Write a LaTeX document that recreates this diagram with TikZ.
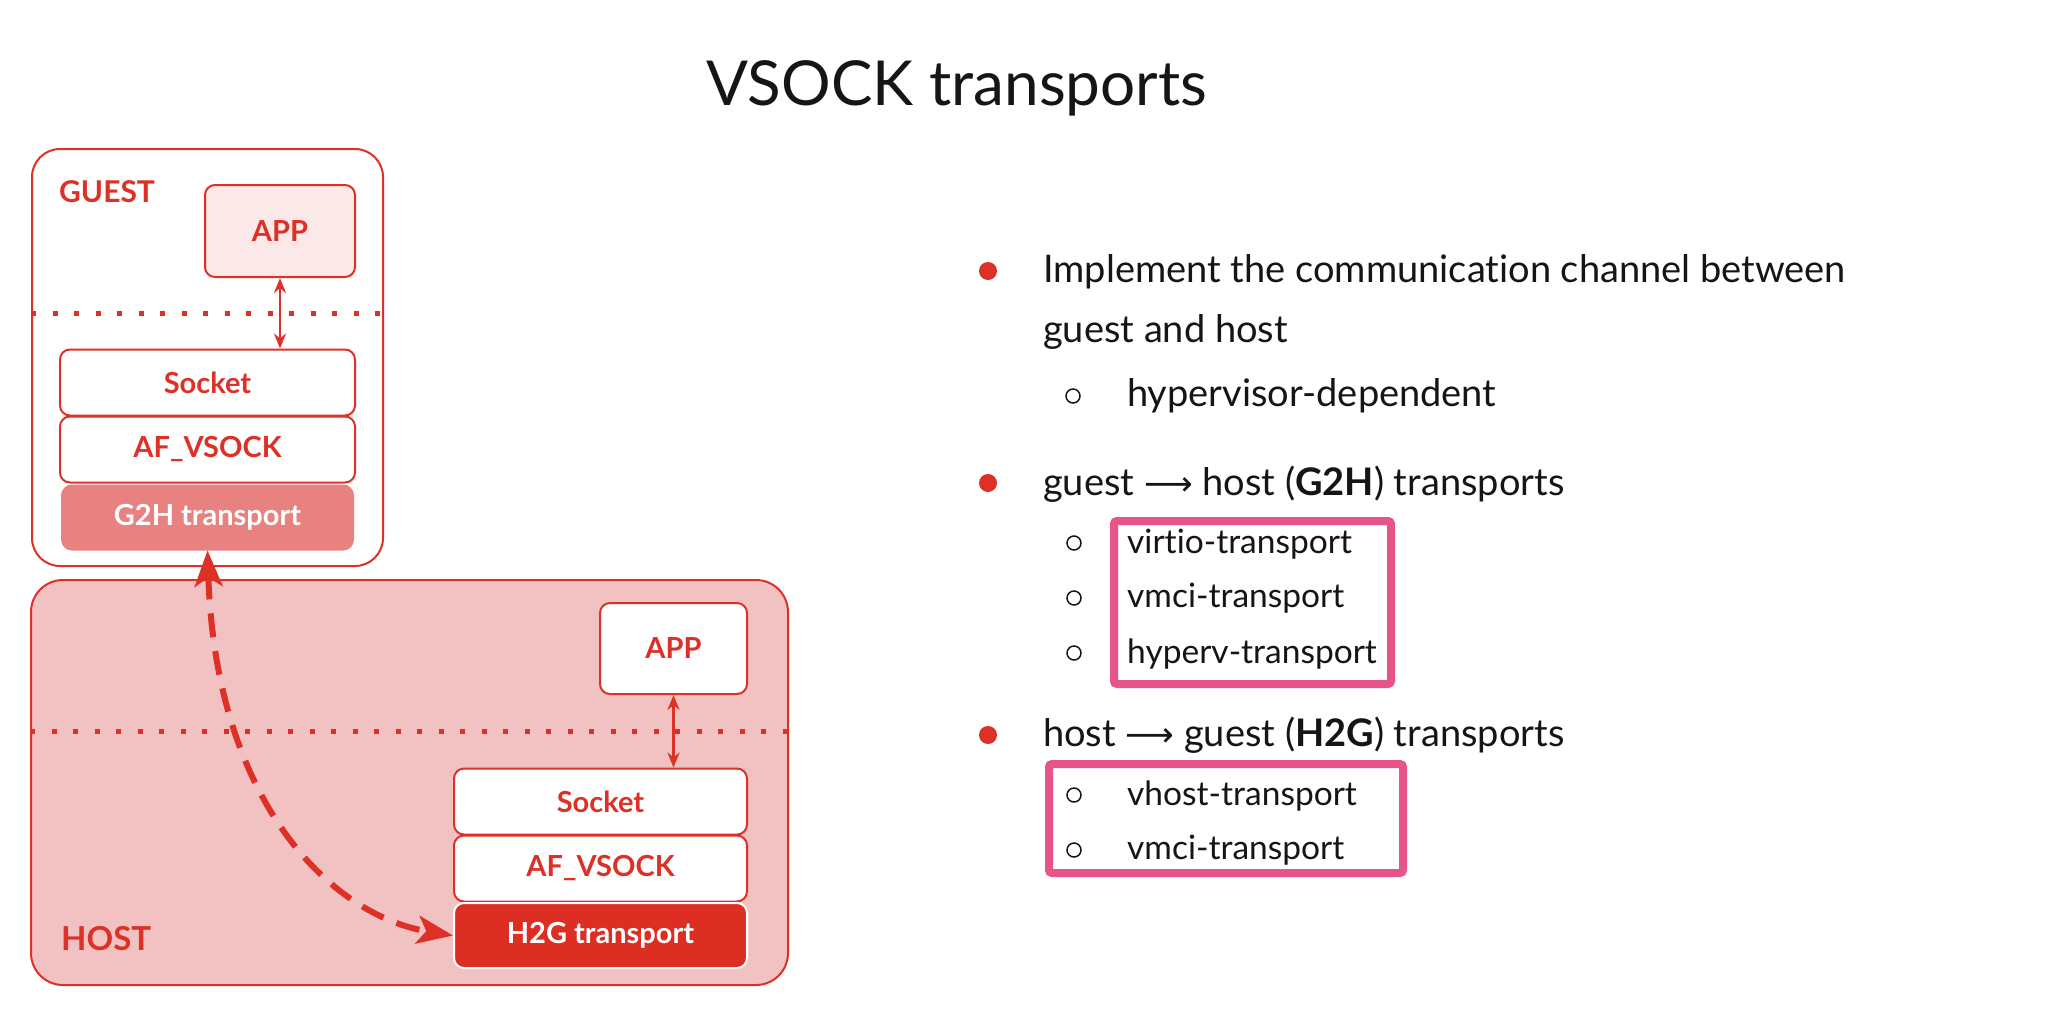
\documentclass[tikz,border=0pt]{standalone}
\usepackage{fontspec}
\setmainfont{Lato}[Ligatures=NoCommon]
\newfontfamily\arrowfont{DejaVu Sans}
\usetikzlibrary{arrows.meta}

\definecolor{rhred}{RGB}{221,49,39}
\definecolor{apppink}{RGB}{251,232,232}
\definecolor{g2hfill}{RGB}{232,130,128}
\definecolor{hostfill}{RGB}{242,194,194}
\definecolor{h2gfill}{RGB}{220,46,34}
\definecolor{listpink}{RGB}{230,84,138}
\definecolor{ink}{RGB}{21,21,21}

\tikzset{
  zone/.style={draw=rhred, line width=2pt, rounded corners=28pt},
  layer/.style={draw=rhred, line width=2pt, rounded corners=10pt, fill=white,
    text=rhred, inner sep=0pt, font=\fontsize{29}{33}\selectfont\bfseries},
  translayer/.style={layer, text=white},
  zonelabel/.style={anchor=base west, inner sep=0pt, text=rhred},
  splitline/.style={draw=rhred, line width=5pt, dash pattern=on 5pt off 16.5pt},
  stackarrow/.style={draw=rhred, line width=2.5pt,
    {Stealth[length=15pt,width=12pt]}-{Stealth[length=15pt,width=12pt]}},
  crossarrow/.style={draw=rhred, line width=6pt, dash pattern=on 24pt off 14pt,
    {Stealth[length=36pt,width=28pt,inset=9pt]}-{Stealth[length=36pt,width=28pt,inset=9pt]}},
  bodytext/.style={anchor=base west, inner sep=0pt, text=ink,
    font=\fontsize{38}{42}\selectfont},
  subtext/.style={anchor=base west, inner sep=0pt, text=ink,
    font=\fontsize{33.5}{37}\selectfont},
  reddot/.style={fill=rhred},
  hollowdot/.style={draw=ink, line width=1.5pt},
  listbox/.style={draw=listpink, line width=8pt, rounded corners=3pt, inner sep=0pt}
}

\begin{document}
\begin{tikzpicture}[x=1pt,y=-1pt]
\useasboundingbox[fill=white] (0,0) rectangle (2048,1018);

% title
\node[anchor=base, inner sep=0pt, text=ink, font=\fontsize{62}{70}\selectfont]
  (title) at (957,105) {VSOCK transports};

% ---------- guest side ----------
\node[zone, minimum width=351pt, minimum height=417pt] (guest) at (207.5,357.5) {};
\node[zonelabel, font=\fontsize{30}{34}\selectfont\bfseries] (guestlbl) at (59,202) {GUEST};
\node[layer, fill=apppink, minimum width=150pt, minimum height=92pt] (gapp) at (280,231) {APP};
\coordinate (gsplitL) at (guest.west |- 0,313);
\coordinate (gsplitR) at (guest.east |- 0,313);
\draw[splitline] (gsplitL) -- (gsplitR);
\node[layer, minimum width=295pt, minimum height=66pt] (gsock) at (207.5,382.5) {Socket};
\node[layer, minimum width=295pt, minimum height=66pt] (gaf) at (207.5,449.5) {AF\_VSOCK};
\node[translayer, draw=g2hfill, fill=g2hfill, minimum width=291pt, minimum height=64pt]
  (gtr) at (207.5,517.5) {G2H transport};
\draw[stackarrow] (gapp.south) -- (gapp.south |- gsock.north);

% ---------- host side ----------
\node[zone, fill=hostfill, rounded corners=32pt, minimum width=757pt, minimum height=405pt]
  (host) at (409.5,782.5) {};
\node[zonelabel, font=\fontsize{33}{37}\selectfont\bfseries] (hostlbl) at (61,950) {HOST};
\node[layer, minimum width=147pt, minimum height=91pt] (happ) at (673.5,648.5) {APP};
\coordinate (hsplitL) at (host.west |- 0,731);
\coordinate (hsplitR) at (host.east |- 0,731);
\draw[splitline] (hsplitL) -- (hsplitR);
\node[layer, minimum width=293pt, minimum height=66pt] (hsock) at (600.5,801.5) {Socket};
\node[layer, minimum width=293pt, minimum height=66pt] (haf) at (600.5,868.5) {AF\_VSOCK};
\node[translayer, draw=white, fill=h2gfill, minimum width=293pt, minimum height=65pt]
  (htr) at (600.5,935.5) {H2G transport};
\draw[stackarrow] (happ.south) -- (happ.south |- hsock.north);

% guest <-> host transport path
\draw[crossarrow] (gtr.south) .. controls +(8,250) and +(-123,-20) .. (htr.west);

% ---------- bullet list ----------
\fill[reddot] (988,271) circle (9pt);
\node[bodytext] (l1a) at (1043,282) {Implement the communication channel between};
\node[bodytext] (l1b) at (1043,342) {guest and host};
\draw[hollowdot] (1073,396) circle (7pt);
\node[bodytext] (l1c) at (1127,406) {hypervisor-dependent};

\node[listbox, minimum width=277pt, minimum height=163pt] (g2hlist) at (1252.5,602.5) {};
\fill[reddot] (988,483) circle (9pt);
\node[bodytext] (l2) at (1043,495)
  {guest {\arrowfont\fontsize{34}{38}\selectfont ⟶} host (\textbf{G2H}) transports};
\draw[hollowdot] (1074,543) circle (7pt);
\node[subtext] (l2a) at (1127,553) {virtio-transport};
\draw[hollowdot] (1074,598) circle (7pt);
\node[subtext] (l2b) at (1127,607) {vmci-transport};
\draw[hollowdot] (1074,653) circle (7pt);
\node[subtext] (l2c) at (1127,663) {hyperv-transport};

\node[listbox, minimum width=354pt, minimum height=109pt] (h2glist) at (1226,818.5) {};
\fill[reddot] (988,735) circle (9pt);
\node[bodytext] (l3) at (1043,746)
  {host {\arrowfont\fontsize{34}{38}\selectfont ⟶} guest (\textbf{H2G}) transports};
\draw[hollowdot] (1074,795) circle (7pt);
\node[subtext] (l3a) at (1127,805) {vhost-transport};
\draw[hollowdot] (1074,850) circle (7pt);
\node[subtext] (l3b) at (1127,859) {vmci-transport};
\end{tikzpicture}
\end{document}
